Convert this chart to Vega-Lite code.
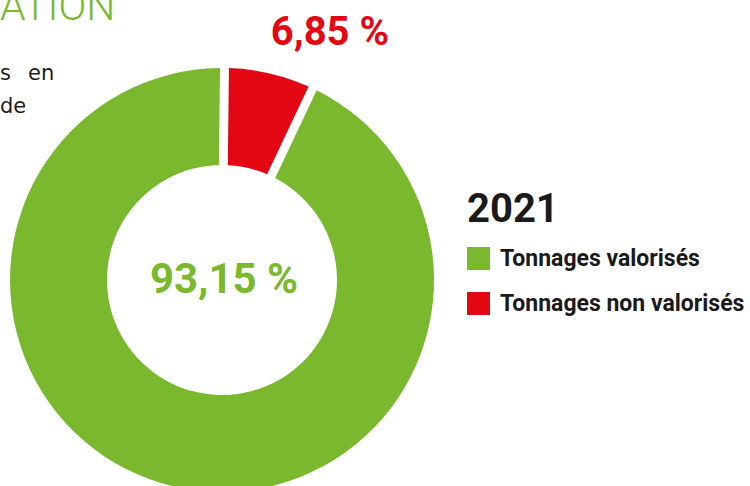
{
  "$schema": "https://vega.github.io/schema/vega-lite/v6.json",
  "autosize": {"type": "none"},
  "width": 444,
  "height": 412,
  "padding": {"left": 0, "top": 74, "right": 306, "bottom": 0},
  "background": "white",
  "title": {
    "text": "ATION",
    "subtitle": ["s\u2002\u00a0en", "de"],
    "anchor": "start",
    "frame": "group",
    "offset": -105,
    "font": "Roboto",
    "fontSize": 41,
    "fontWeight": 300,
    "color": "#7ab82e",
    "subtitleFont": "DejaVu Sans",
    "subtitleFontSize": 21,
    "subtitleColor": "#1d1d1b",
    "subtitleLineHeight": 33,
    "subtitlePadding": 34
  },
  "data": {
    "values": [
      {"categorie": "Tonnages valorisés", "valeur": 93.15, "label": "93,15 %"},
      {"categorie": "Tonnages non valorisés", "valeur": 6.85, "label": "6,85 %"}
    ]
  },
  "layer": [
    {
      "mark": {"type": "arc", "radius": 212, "innerRadius": 115, "padAngle": 0.037},
      "encoding": {
        "theta": {"field": "valeur", "type": "quantitative", "stack": true, "scale": {"range": [0.0117, 6.2949]}},
        "order": {"field": "valeur", "sort": "ascending"},
        "color": {
          "field": "categorie",
          "type": "nominal",
          "title": "2021",
          "scale": {"domain": ["Tonnages valorisés", "Tonnages non valorisés"], "range": ["#7ab82e", "#e30613"]},
          "legend": {
            "orient": "none",
            "legendX": 467,
            "legendY": 116,
            "symbolType": "square",
            "symbolSize": 529,
            "symbolStrokeWidth": 0,
            "labelFont": "Roboto",
            "labelFontSize": 23,
            "labelFontWeight": "bold",
            "labelColor": "#1a1a1a",
            "labelOffset": 10,
            "labelLimit": 400,
            "rowPadding": 21,
            "titleFont": "Roboto",
            "titleFontSize": 40,
            "titleFontWeight": "bold",
            "titleColor": "#1a1a1a",
            "titlePadding": 17,
            "padding": 0
          }
        }
      }
    },
    {
      "mark": {"type": "text", "font": "Roboto", "fontWeight": "bold", "align": "center", "baseline": "middle", "thetaOffset": 0.178, "dx": 2},
      "encoding": {
        "theta": {"field": "valeur", "type": "quantitative", "stack": true, "scale": {"range": [0.0117, 6.2949]}},
        "order": {"field": "valeur", "sort": "ascending"},
        "radius": {"field": "valeur", "type": "quantitative", "scale": {"type": "linear", "domain": [6.85, 93.15], "range": [269, 0], "zero": false}},
        "text": {"field": "label"},
        "size": {"condition": {"test": "datum.categorie == 'Tonnages valorisés'", "value": 42}, "value": 40},
        "color": {"condition": {"test": "datum.categorie == 'Tonnages valorisés'", "value": "#7ab82e"}, "value": "#e30613"}
      }
    }
  ],
  "config": {"view": {"stroke": null}}
}
